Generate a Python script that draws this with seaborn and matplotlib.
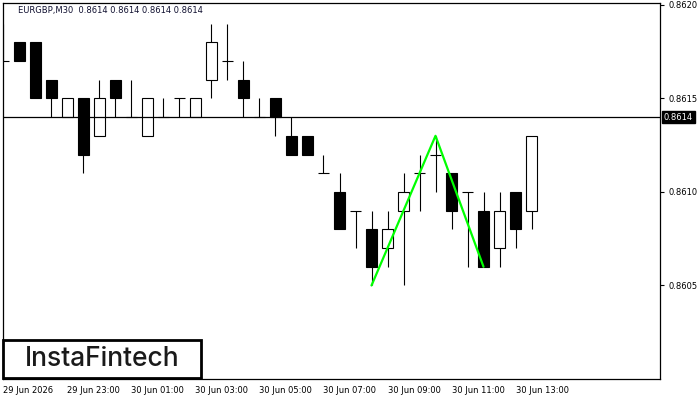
import numpy as np
import pandas as pd
import matplotlib
matplotlib.use("Agg")
import matplotlib.pyplot as plt
import matplotlib.transforms as mtransforms
from matplotlib.patches import Rectangle
import seaborn as sns

# EURGBP M30 candles (one per 30 min, from 29 Jun 21:00)
opens = [0.8617, 0.8618, 0.8618, 0.8616, 0.8614, 0.8615, 0.8613, 0.8616, 0.8614, 0.8613,
         0.8614, 0.8615, 0.8614, 0.8616, 0.8617, 0.8616, 0.8614, 0.8615, 0.8613, 0.8613,
         0.8611, 0.8610, 0.8609, 0.8608, 0.8607, 0.8609, 0.8611, 0.8612, 0.8611, 0.8610,
         0.8609, 0.8607, 0.8610, 0.8609]
highs = [0.8619, 0.8618, 0.8618, 0.8616, 0.8615, 0.8615, 0.8616, 0.8616, 0.8616, 0.8615,
         0.8615, 0.8615, 0.8615, 0.8619, 0.8619, 0.8617, 0.8615, 0.8615, 0.8614, 0.8613,
         0.8612, 0.8611, 0.8609, 0.8609, 0.8609, 0.8611, 0.8612, 0.8613, 0.8611, 0.8610,
         0.8610, 0.8610, 0.8610, 0.8613]
lows = [0.8617, 0.8617, 0.8615, 0.8614, 0.8614, 0.8611, 0.8613, 0.8614, 0.8614, 0.8613,
        0.8614, 0.8614, 0.8614, 0.8615, 0.8616, 0.8614, 0.8614, 0.8613, 0.8612, 0.8612,
        0.8611, 0.8608, 0.8607, 0.8605, 0.8606, 0.8605, 0.8609, 0.8610, 0.8608, 0.8606,
        0.8606, 0.8606, 0.8607, 0.8608]
closes = [0.8617, 0.8617, 0.8615, 0.8615, 0.8615, 0.8612, 0.8615, 0.8615, 0.8614, 0.8615,
          0.8614, 0.8615, 0.8615, 0.8618, 0.8617, 0.8615, 0.8614, 0.8614, 0.8612, 0.8612,
          0.8611, 0.8608, 0.8609, 0.8606, 0.8608, 0.8610, 0.8611, 0.8612, 0.8609, 0.8610,
          0.8606, 0.8609, 0.8608, 0.8613]

time_tick_pos = [0, 4, 8, 12, 16, 20, 24, 28, 32]
time_tick_labels = ["29 Jun 2026", "29 Jun 23:00", "30 Jun 01:00", "30 Jun 03:00",
                    "30 Jun 05:00", "30 Jun 07:00", "30 Jun 09:00", "30 Jun 11:00",
                    "30 Jun 13:00"]
price_ticks = [0.8605, 0.8610, 0.8615, 0.8620]

# pattern line (double top drawn in green)
pattern_idx = [23, 27, 30]
pattern_price = [0.8605, 0.8613, 0.8606]

current_price = 0.8614
header = "EURGBP,M30  0.8614 0.8614 0.8614 0.8614"

sns.set_style("white")
plt.rcParams['font.family'] = ['DejaVu Sans']

df = pd.DataFrame({"open": opens, "high": highs, "low": lows, "close": closes})
df["idx"] = np.arange(len(df))

fig = plt.figure(figsize=(7, 4), dpi=100)
ax = fig.add_axes([3 / 700, 21 / 400, 657 / 700, 376 / 400])

w = 0.66
# wicks
ax.vlines(df["idx"], df["low"], df["high"], color="black", lw=0.8, zorder=2)
# bodies
for _, r in df.iterrows():
    if r["close"] == r["open"]:
        ax.hlines(r["open"], r["idx"] - w / 2, r["idx"] + w / 2, color="black", lw=0.8, zorder=3)
    else:
        fill = "white" if r["close"] > r["open"] else "black"
        ax.bar(r["idx"], abs(r["close"] - r["open"]), bottom=min(r["open"], r["close"]),
               width=w, color=fill, edgecolor="black", linewidth=0.8, zorder=3)

sns.lineplot(x=pattern_idx, y=pattern_price, color="#00ff00", lw=1.6, ax=ax, zorder=4)

ax.axhline(current_price, color="black", lw=0.9, zorder=5)

ax.set_xlim(-0.03, 41.03)
ax.set_ylim(0.86000, 0.86201)

ax.yaxis.tick_right()
ax.set_yticks(price_ticks)
ax.set_yticklabels([f"{p:.4f}" for p in price_ticks])
ax.set_xticks(time_tick_pos)
ax.set_xticklabels(time_tick_labels, ha="left")
ax.tick_params(axis="both", labelsize=6, length=3, width=0.8, colors="black", pad=2)
ax.tick_params(axis="y", pad=3)
ax.set_xlabel("")
ax.set_ylabel("")
for s in ax.spines.values():
    s.set_visible(True)
    s.set_color("black")
    s.set_linewidth(0.9)

# current price tag on the right axis
trans = mtransforms.blended_transform_factory(ax.transAxes, ax.transData)
ax.text(1.006, current_price, f"{current_price:.4f}", transform=trans, fontsize=6,
        color="white", va="center", ha="left", zorder=6,
        bbox=dict(boxstyle="square,pad=0.2", fc="black", ec="black"))

fig.text(18 / 700, 1 - 11 / 400, header, fontsize=6, color="#101030", ha="left", va="center")

# logo box
fig.patches.append(Rectangle((3 / 700, 22 / 400), 198 / 700, 38 / 400, transform=fig.transFigure,
                             fc="white", ec="black", lw=2, zorder=10))
fig.text(102 / 700, 1 - 359 / 400, "InstaFintech", fontsize=19, family=["Inter", "DejaVu Sans"],
         weight="medium", color="#1a1a1a", ha="center", va="center", zorder=11)

fig.savefig("out.png", dpi=100)
